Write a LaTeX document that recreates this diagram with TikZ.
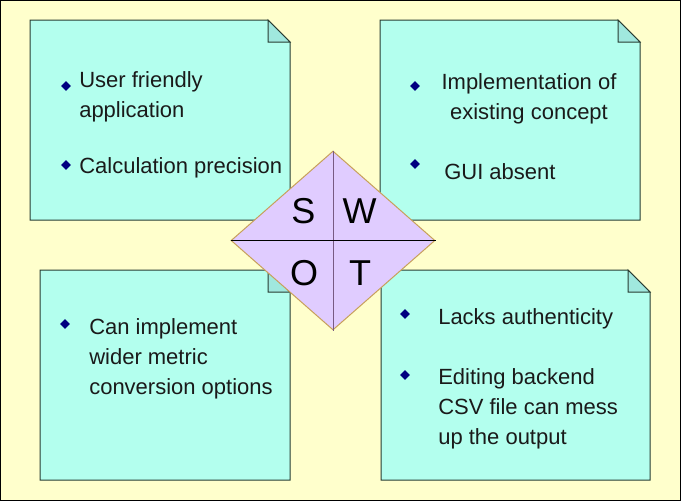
\documentclass[tikz,border=0pt]{standalone}
\usepackage{fontspec}
\setmainfont{Liberation Sans}
\usetikzlibrary{shapes.geometric}

\definecolor{paper}{RGB}{255,255,204}
\definecolor{notefill}{RGB}{179,255,238}
\definecolor{foldfill}{RGB}{160,232,222}
\definecolor{noteline}{RGB}{40,60,50}
\definecolor{diafill}{RGB}{224,204,255}
\definecolor{dialine}{RGB}{200,160,90}
\definecolor{midline}{RGB}{120,90,130}
\definecolor{bulletblue}{RGB}{0,0,128}
\definecolor{ink}{RGB}{26,26,26}

\begin{document}
\begin{tikzpicture}[x=0.75pt,y=0.75pt,yscale=-1,xscale=1,
    notebox/.style={draw=noteline,fill=notefill,line width=0.75pt},
    foldbox/.style={draw=noteline,fill=foldfill,line width=0.75pt},
    bullet/.style={diamond,fill=bulletblue,inner sep=0pt,minimum size=7.5pt},
    itemtext/.style={anchor=base west,inner sep=0pt,text=ink,font=\fontsize{16.5}{22.5}\selectfont,align=left},
    swotletter/.style={anchor=base,inner sep=0pt,text=black,font=\fontsize{27}{27}\selectfont}]

    \useasboundingbox (0,0) rectangle (681,501);
    %Shape: Background
    \fill[paper] (0,0) rectangle (681,501);
    \draw[line width=0.75pt] (0.5,0.5) rectangle (680.5,500.5);

    %Shape: Note [strengths]
    \draw[notebox] (30,20) -- (268,20) -- (290,42) -- (290,220) -- (30,220) -- cycle ;
    \draw[foldbox] (268,20) -- (268,42) -- (290,42) -- cycle ;
    %Shape: Note [weaknesses]
    \draw[notebox] (380,20) -- (618,20) -- (640,42) -- (640,220) -- (380,220) -- cycle ;
    \draw[foldbox] (618,20) -- (618,42) -- (640,42) -- cycle ;
    %Shape: Note [opportunities]
    \draw[notebox] (40,270) -- (268,270) -- (290,292) -- (290,480) -- (40,480) -- cycle ;
    \draw[foldbox] (268,270) -- (268,292) -- (290,292) -- cycle ;
    %Shape: Note [threats]
    \draw[notebox] (381,270) -- (628,270) -- (650,292) -- (650,480) -- (381,480) -- cycle ;
    \draw[foldbox] (628,270) -- (628,292) -- (650,292) -- cycle ;

    %Shape: Diamond
    \node[diamond,draw=dialine,fill=diafill,line width=0.75pt,inner sep=0pt,
          minimum width=153pt,minimum height=134.25pt] (swot) at (333,240.5) {};
    \draw[midline,line width=0.75pt] (swot.north) -- (swot.south) ;
    \draw[black,line width=0.75pt] (swot.west) -- (swot.east) ;

    % Text Node
    \node[swotletter] (lS) at (303.5,223) {S};
    \node[swotletter] (lW) at (359.5,223) {W};
    \node[swotletter] (lO) at (304,285) {O};
    \node[swotletter] (lT) at (360,285) {T};

    % Text Node (base = last line)
    \node[bullet] (bs1) at (66,86) {};
    \node[itemtext] (s1) at (79,117) {User friendly\\application};
    \node[bullet] (bs2) at (66,165) {};
    \node[itemtext] (s2) at (79,173) {Calculation precision};

    % Text Node
    \node[bullet] (bw1) at (415,86) {};
    \node[itemtext,anchor=base,align=center] (w1) at (529,119) {Implementation of\\existing concept};
    \node[bullet] (bw2) at (415,164) {};
    \node[itemtext] (w2) at (444,179) {GUI absent};

    % Text Node
    \node[bullet] (bo1) at (65,324) {};
    \node[itemtext] (o1) at (89,394) {Can implement\\wider metric\\conversion options};

    % Text Node
    \node[bullet] (bt1) at (405,314) {};
    \node[itemtext] (t1) at (438,324) {Lacks authenticity};
    \node[bullet] (bt2) at (405,375) {};
    \node[itemtext] (t2) at (438,444) {Editing backend\\CSV file can mess\\up the output};

\end{tikzpicture}
\end{document}
